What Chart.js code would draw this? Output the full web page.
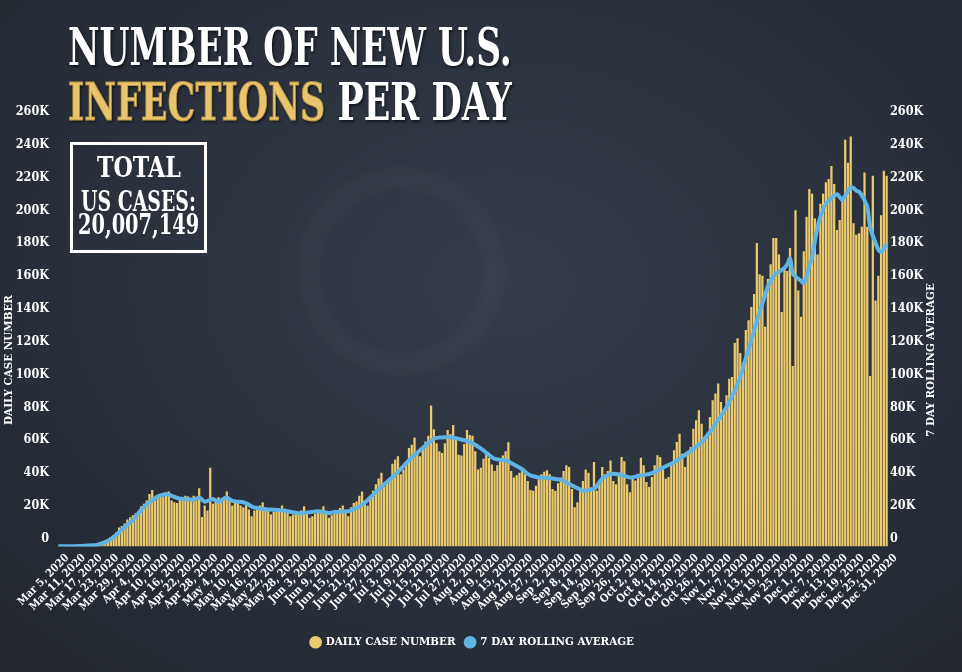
<!DOCTYPE html>
<html>
<head>
<meta charset="utf-8">
<title>Number of new U.S. infections per day</title>
<script src="https://cdn.jsdelivr.net/npm/chart.js@4.4.1/dist/chart.umd.min.js"></script>
<style>
  html, body { margin: 0; padding: 0; }
  body {
    width: 962px; height: 672px; overflow: hidden; position: relative;
    background: radial-gradient(ellipse 70% 75% at 52% 42%, #343c49 0%, #2b323e 55%, #22272f 100%);
    font-family: 'DejaVu Serif Condensed', 'DejaVu Serif', serif;
  }
  #ring {
    position: absolute; left: 300px; top: 170px; width: 170px; height: 170px;
    border-radius: 50%; border: 16px solid rgba(255,255,255,0.035); filter: blur(7px);
  }
  #chart { position: absolute; left: 0; top: 0; }
  .fit {
    position: absolute; white-space: nowrap; font-weight: bold;
    transform-origin: 0 0; line-height: 1; color: #fff;
  }
  .title { font-size: 52px; text-shadow: 2px 2px 3px rgba(0,0,0,0.55); }
  .gold { color: #e8c46c; -webkit-text-stroke: 1px #b89443; }
  #totalBox {
    position: absolute; left: 70px; top: 142px; width: 131px; height: 105px;
    border: 3px solid #fff;
  }
  .box { font-size: 27px; }
</style>
</head>
<body>
<div id="ring"></div>
<canvas id="chart" width="962" height="672"></canvas>

<div class="fit title" id="t1">NUMBER OF NEW U.S.</div>
<div class="fit title" id="t2"><span class="gold">INFECTIONS</span> PER DAY</div>
<div id="totalBox"></div>
<div class="fit box" id="b1">TOTAL</div>
<div class="fit box" id="b2">US CASES:</div>
<div class="fit box" id="b3">20,007,149</div>

<script>
// daily new cases, thousands, Mar 5 - Dec 31 2020 (source has no Aug 8 row)
const dailyCasesK = [
  0.1, 0.1, 0.2, 0.2, 0.3, 0.3, 0.4, 0.5, 0.6, 0.7,
  0.8, 1.0, 1.2, 1.5, 1.9, 2.4, 3.0, 3.6, 4.4, 5.7,
  7.0, 8.7, 11.6, 12.5, 14.0, 16.5, 17.8, 19.0, 20.2, 21.0,
  24.5, 26.0, 28.0, 32.0, 34.5, 28.0, 31.0, 31.5, 30.5, 31.0,
  33.5, 28.0, 27.0, 26.5, 29.0, 29.5, 31.0, 30.5, 29.5, 31.0,
  28.0, 35.5, 18.0, 25.0, 22.0, 48.0, 26.0, 28.0, 30.0, 27.0,
  28.5, 33.5, 29.0, 25.0, 27.5, 26.5, 25.0, 24.0, 26.5, 22.5,
  18.5, 22.0, 23.0, 25.0, 27.0, 24.0, 22.0, 19.5, 21.0, 22.0,
  22.5, 25.0, 23.0, 21.0, 18.5, 19.5, 20.5, 21.0, 22.0, 24.5,
  20.0, 17.5, 18.5, 20.0, 21.5, 22.0, 24.5, 21.0, 17.5, 19.0,
  20.5, 22.0, 23.5, 25.0, 21.0, 18.5, 24.0, 26.5, 27.5, 31.0,
  33.5, 28.0, 25.0, 30.0, 34.0, 38.0, 41.5, 45.0, 36.5, 40.0,
  41.0, 50.5, 53.0, 55.0, 44.0, 47.0, 52.0, 60.0, 62.0, 66.5,
  58.0, 55.0, 60.5, 64.0, 67.5, 86.0, 71.5, 63.0, 58.0, 57.0,
  63.0, 71.0, 68.5, 74.0, 66.0, 56.0, 55.5, 62.5, 71.0, 68.0,
  67.5, 58.0, 47.0, 48.0, 53.5, 57.0, 54.0, 50.0, 46.0, 49.5,
  52.0, 55.5, 58.0, 63.5, 46.0, 42.0, 43.5, 45.0, 47.5, 44.0,
  40.0, 34.5, 34.0, 37.0, 41.0, 44.0, 45.5, 46.5, 44.0, 35.0,
  34.0, 38.5, 42.0, 46.0, 49.5, 48.5, 35.0, 24.0, 27.0, 34.0,
  40.0, 47.0, 45.0, 36.0, 51.5, 34.0, 38.0, 48.5, 44.0, 46.0,
  52.5, 40.0, 38.0, 45.0, 54.5, 52.0, 38.0, 33.0, 41.3, 40.3,
  44.4, 54.1, 49.5, 39.3, 36.3, 42.4, 49.5, 55.6, 54.6, 48.5,
  41.3, 42.4, 49.5, 58.6, 63.7, 68.8, 56.6, 48.5, 56.6, 60.7,
  71.8, 76.9, 83.0, 74.9, 66.8, 68.8, 79.0, 89.1, 93.2, 99.3,
  88.1, 83.0, 92.2, 102.3, 103.3, 124.0, 127.0, 118.0, 112.0, 132.0,
  138.0, 146.0, 154.0, 185.0, 166.0, 165.0, 134.0, 163.0, 172.0, 188.0,
  188.0, 178.0, 143.0, 170.0, 168.0, 182.0, 110.0, 205.0, 156.0, 140.0,
  180.0, 201.0, 218.0, 215.0, 200.0, 178.0, 209.0, 215.0, 222.0, 224.0,
  232.0, 221.0, 193.0, 199.0, 212.0, 248.0, 234.0, 250.0, 197.0, 190.0,
  191.0, 195.0, 228.0, 195.0, 104.0, 226.0, 150.0, 165.0, 202.0, 229.0,
  226.0
];

// 7 day rolling average, thousands, same days
const rollingAvgK = [
  0.1, 0.1, 0.1, 0.1, 0.2, 0.2, 0.2, 0.3, 0.3, 0.4,
  0.5, 0.6, 0.7, 0.8, 1.0, 1.4, 2.0, 2.7, 3.5, 4.6,
  5.7, 7.2, 8.7, 10.2, 11.7, 13.2, 14.7, 16.2, 18.2, 20.3,
  22.3, 24.0, 25.6, 27.0, 28.2, 29.4, 30.4, 31.1, 31.6, 32.0,
  31.6, 30.9, 30.2, 29.6, 29.2, 29.0, 28.8, 28.7, 28.6, 28.5,
  29.2, 29.9, 28.6, 27.3, 27.8, 28.4, 29.0, 28.0, 27.2, 28.2,
  29.3, 29.9, 28.8, 27.8, 27.5, 27.3, 27.2, 27.0, 26.3, 25.4,
  24.4, 23.8, 23.5, 23.2, 22.9, 22.7, 22.6, 22.5, 22.4, 22.3,
  22.2, 22.1, 21.8, 21.5, 21.2, 20.9, 20.6, 20.3, 20.3, 20.5,
  20.7, 20.9, 21.1, 21.3, 21.5, 21.3, 21.0, 20.7, 20.4, 20.6,
  21.0, 21.1, 21.2, 21.3, 21.4, 21.5, 22.0, 22.8, 23.6, 24.4,
  25.4, 26.7, 28.3, 29.9, 31.5, 33.1, 34.8, 36.4, 37.8, 39.3,
  40.8, 42.3, 43.8, 45.4, 47.2, 49.0, 50.8, 52.6, 54.3, 55.8,
  57.2, 58.6, 60.0, 61.6, 63.0, 64.3, 65.6, 66.2, 66.4, 66.5,
  66.6, 66.7, 66.6, 66.3, 66.0, 65.6, 65.2, 64.8, 64.3, 63.8,
  63.0, 62.0, 60.9, 59.8, 58.6, 57.2, 55.8, 54.5, 53.5, 53.1,
  52.8, 52.6, 52.5, 51.9, 50.9, 50.0, 49.1, 48.2, 47.0, 45.7,
  44.3, 43.4, 42.8, 42.4, 42.1, 42.0, 41.9, 41.8, 41.6, 41.4,
  41.1, 40.9, 40.7, 40.1, 39.2, 38.2, 37.2, 36.4, 35.6, 34.8,
  34.1, 34.0, 34.3, 34.7, 35.1, 36.8, 39.2, 41.5, 42.6, 43.4,
  44.2, 44.4, 44.2, 43.9, 43.6, 43.0, 42.5, 42.1, 42.2, 42.6,
  43.0, 43.3, 43.6, 43.9, 44.2, 44.7, 45.5, 46.3, 47.2, 48.1,
  48.9, 49.7, 50.4, 51.4, 52.4, 53.4, 54.6, 55.8, 57.0, 58.2,
  59.5, 60.9, 62.2, 63.6, 65.6, 67.6, 69.8, 72.2, 74.8, 77.2,
  79.7, 82.2, 84.9, 88.2, 91.5, 95.0, 99.0, 103.0, 109.0, 115.0,
  120.5, 126.0, 131.8, 137.6, 143.0, 148.2, 153.4, 158.6, 162.0, 164.8,
  166.3, 167.4, 168.6, 169.8, 172.0, 175.5, 166.5, 164.5, 163.2, 162.0,
  160.5, 165.0, 171.0, 176.0, 186.0, 195.0, 201.0, 205.5, 208.8, 210.8,
  212.5, 213.8, 214.8, 213.0, 211.2, 214.0, 216.5, 219.0, 218.5, 217.0,
  216.2, 214.0, 211.0, 207.0, 195.0, 189.5, 185.0, 181.0, 179.5, 181.5,
  184.5
];

// every 6th day gets a label
const tickLabels = [
  "Mar 5, 2020", "Mar 11, 2020", "Mar 17, 2020", "Mar 23, 2020", "Mar 29, 2020",
  "Apr 4, 2020", "Apr 10, 2020", "Apr 16, 2020", "Apr 22, 2020", "Apr 28, 2020",
  "May 4, 2020", "May 10, 2020", "May 16, 2020", "May 22, 2020", "May 28, 2020",
  "Jun 3, 2020", "Jun 9, 2020", "Jun 15, 2020", "Jun 21, 2020", "Jun 27, 2020",
  "Jul 3, 2020", "Jul 9, 2020", "Jul 15, 2020", "Jul 21, 2020", "Jul 27, 2020",
  "Aug 2, 2020", "Aug 9, 2020", "Aug 15, 2020", "Aug 21, 2020", "Aug 27, 2020",
  "Sep 2, 2020", "Sep 8, 2020", "Sep 14, 2020", "Sep 20, 2020", "Sep 26, 2020",
  "Oct 2, 2020", "Oct 8, 2020", "Oct 14, 2020", "Oct 20, 2020", "Oct 26, 2020",
  "Nov 1, 2020", "Nov 7, 2020", "Nov 13, 2020", "Nov 19, 2020", "Nov 25, 2020",
  "Dec 1, 2020", "Dec 7, 2020", "Dec 13, 2020", "Dec 19, 2020", "Dec 25, 2020",
  "Dec 31, 2020"
];
const yTicksK = [0, 20, 40, 60, 80, 100, 120, 140, 160, 180, 200, 220, 240, 260];

// day categories, skipping the missing Aug 8
const months = ["Jan","Feb","Mar","Apr","May","Jun","Jul","Aug","Sep","Oct","Nov","Dec"];
const categories = [];
for (let d = new Date(2020, 2, 5); d <= new Date(2020, 11, 31); d.setDate(d.getDate() + 1)) {
  if (d.getMonth() === 7 && d.getDate() === 8) continue;
  categories.push(months[d.getMonth()] + " " + d.getDate() + ", 2020");
}

const FONT = "'DejaVu Serif Condensed', 'DejaVu Serif', serif";
const GOLD = "#ebc96d";
const BLUE = "#5fb4e4";

// squeeze the headline text to the widths of the original
function fitText(id, left, top, width) {
  const el = document.getElementById(id);
  el.style.top = top + "px";
  el.style.left = left + "px";
  el.style.transform = "scaleX(" + (width / el.offsetWidth) + ")";
}
fitText("t1", 68, 21, 444);
fitText("t2", 68, 76, 444);
fitText("b1", 138.5 - 42, 154, 84);
fitText("b2", 138.5 - 57.5, 188, 115);
fitText("b3", 138.5 - 60.5, 211, 121);

// vertical axis titles (both read bottom to top)
const axisTitles = {
  id: "axisTitles",
  afterDraw(chart) {
    const ctx = chart.ctx;
    ctx.save();
    ctx.fillStyle = "#fff";
    ctx.font = "bold 11.5px " + FONT;
    ctx.textAlign = "center";
    ctx.textBaseline = "middle";
    [[9, "DAILY CASE NUMBER"], [chart.width - 31, "7 DAY ROLLING AVERAGE"]].forEach(([x, txt]) => {
      ctx.save();
      ctx.translate(x, 360);
      ctx.rotate(-Math.PI / 2);
      ctx.fillText(txt, 0, 0);
      ctx.restore();
    });
    ctx.restore();
  }
};

const yTickOpts = {
  color: "#fff",
  font: { family: FONT, size: 12.5, weight: "bold" },
  stepSize: 20,
  labelOffset: -8,
  callback: (v) => yTicksK.includes(v) ? (v === 0 ? "0" : v + "K") : ""
};

new Chart(document.getElementById("chart"), {
  type: "bar",
  data: {
    labels: categories,
    datasets: [
      {
        label: "DAILY CASE NUMBER",
        data: dailyCasesK,
        backgroundColor: GOLD,
        borderWidth: 0,
        barPercentage: 0.82,
        categoryPercentage: 1.0,
        yAxisID: "y",
        order: 1
      },
      {
        type: "line",
        label: "7 DAY ROLLING AVERAGE",
        data: rollingAvgK,
        borderColor: BLUE,
        backgroundColor: BLUE,
        borderWidth: 4,
        pointRadius: 0,
        tension: 0.3,
        yAxisID: "y2",
        order: 0
      }
    ]
  },
  options: {
    responsive: false,
    animation: false,
    layout: { padding: { top: 120, left: 0, right: 0, bottom: 14 } },
    scales: {
      x: {
        grid: { display: false, drawTicks: false },
        border: { display: false },
        ticks: {
          color: "#fff",
          font: { family: FONT, size: 11, weight: "bold" },
          autoSkip: false,
          minRotation: 45,
          maxRotation: 45,
          padding: 5,
          labelOffset: 9,
          callback: (v, i) => (i % 6 === 0 ? tickLabels[i / 6] : "")
        },
        afterFit: (s) => { s.height = 80; }
      },
      y: {
        position: "left",
        min: 0, max: 260,
        grid: { display: false, drawTicks: false },
        border: { display: false },
        ticks: Object.assign({ padding: 8 }, yTickOpts),
        afterFit: (s) => { s.width = 57; }
      },
      y2: {
        position: "right",
        min: 0, max: 260,
        grid: { display: false, drawTicks: false },
        border: { display: false },
        ticks: Object.assign({ padding: 2 }, yTickOpts),
        afterFit: (s) => { s.width = 74; }
      }
    },
    plugins: {
      tooltip: { enabled: false },
      legend: {
        position: "bottom",
        fullSize: false,
        labels: {
          color: "#fff",
          font: { family: FONT, size: 11.5, weight: "bold" },
          usePointStyle: true,
          pointStyle: "circle",
          boxHeight: 9,
          boxWidth: 9,
          padding: 10,
          sort: (a, b) => a.datasetIndex - b.datasetIndex,
          generateLabels: (chart) => chart.data.datasets.map((ds, i) => ({
            text: ds.label,
            fillStyle: i === 0 ? GOLD : BLUE,
            strokeStyle: "rgba(0,0,0,0)",
            lineWidth: 0,
            fontColor: "#fff",
            pointStyle: "circle",
            datasetIndex: i,
            hidden: false
          }))
        }
      }
    }
  },
  plugins: [axisTitles]
});
</script>
</body>
</html>
